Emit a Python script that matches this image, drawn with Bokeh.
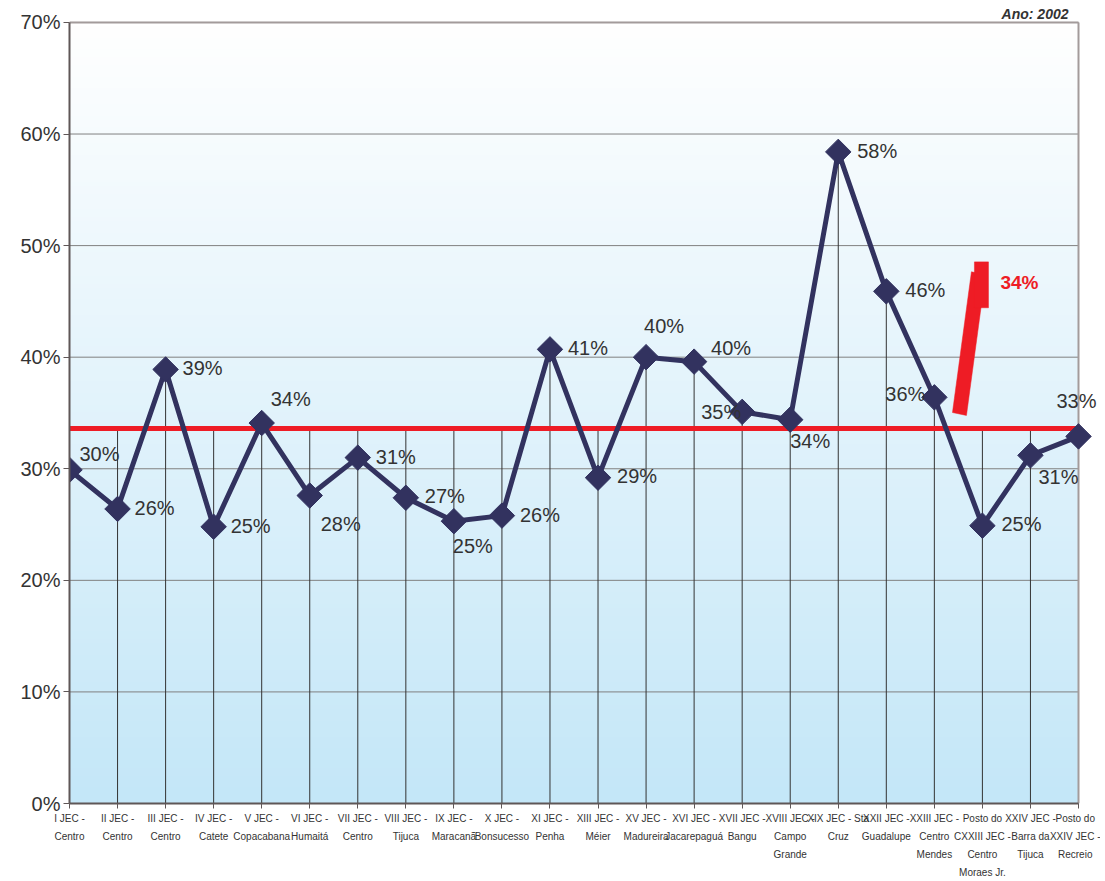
import numpy as np
from bokeh.plotting import figure
from bokeh.models import (Range1d, FixedTicker, PrintfTickFormatter, ColumnDataSource, Label)
from bokeh.embed import file_html
from bokeh.resources import INLINE

# ---------------- data ----------------
categories = [
    "I JEC -\nCentro", "II JEC -\nCentro", "III JEC -\nCentro", "IV JEC -\nCatete",
    "V JEC -\nCopacabana", "VI JEC -\nHumaitá", "VII JEC -\nCentro", "VIII JEC -\nTijuca",
    "IX JEC -\nMaracanã", "X JEC -\nBonsucesso", "XI JEC -\nPenha", "XIII JEC -\nMéier",
    "XV JEC -\nMadureira", "XVI JEC -\nJacarepaguá", "XVII JEC -\nBangu",
    "XVIII JEC -\nCampo\nGrande", "XIX JEC - Sta\nCruz", "XXII JEC -\nGuadalupe",
    "XXIII JEC -\nCentro\nMendes", "Posto do\nCXXIII JEC -\nCentro\nMoraes Jr.",
    "XXIV JEC -\nBarra da\nTijuca", "Posto do\nXXIV JEC -\nRecreio",
]
values = [29.9, 26.4, 38.9, 24.8, 34.1, 27.6, 31.0, 27.4, 25.3, 25.8, 40.7, 29.2,
          40.0, 39.6, 35.1, 34.4, 58.4, 45.9, 36.4, 24.9, 31.2, 32.9]
average = 33.6
average_label = "34%"
title_text = "Ano: 2002"
y_ticks = [0, 10, 20, 30, 40, 50, 60, 70]
y_max = 70

# label offsets (pixels, +x right, +y up) -- layout only
label_dx = [30, 37, 37, 37, 29, 31, 38, 39, 19, 38, 38, 39, 18, 37, -21, 20, 39, 39, -29, 39, 28, -2]
label_dy = [16, 1, 1, 1, 24, -28, 1, 2, -25, 1, 1, 2, 31, 14, 0, -21, 1, 1, 3, 2, -22, 35]

# red arrow annotation shape (data units)
arrow_bar_x = [18.377, 18.668, 19.063, 18.772]
arrow_bar_y = [35.04, 34.78, 47.38, 47.65]
arrow_head_x = [18.834, 19.126, 19.126, 18.834]
arrow_head_y = [48.54, 48.54, 44.43, 44.43]

NAVY = "#32325F"
RED = "#EE1C25"
TXT = "#333333"
BORDER = "#A39B9B"
AXIS = "#5F5757"
FONT = "Liberation Sans"

n = len(values)
xs = list(range(n))
x_last = n - 1

# frame is extended right/top beyond the plot box so outside labels are not clipped
FRAME_LEFT, FRAME_TOP, FRAME_BOTTOM = 69, 0, 805
BOX_RIGHT, BOX_TOP = 1078, 22
W, H = 1100, 880
x_end = x_last * (W - FRAME_LEFT) / (BOX_RIGHT - FRAME_LEFT)
y_end = y_max * (FRAME_BOTTOM - FRAME_TOP) / (FRAME_BOTTOM - BOX_TOP)

p = figure(width=W, height=H, x_range=Range1d(0, x_end), y_range=Range1d(0, y_end),
           output_backend="svg", toolbar_location=None,
           min_border_left=FRAME_LEFT, min_border_right=0, min_border_top=FRAME_TOP,
           min_border_bottom=H - FRAME_BOTTOM)
p.background_fill_color = "white"
p.border_fill_color = "white"
p.outline_line_color = None

# gradient background
N = 200
t = np.linspace(0, 1, N)[:, None]  # 0 bottom -> 1 top
bottom = np.array([196, 231, 248])
top = np.array([255, 255, 255])
rgb = (bottom + (top - bottom) * t).astype(np.uint32)
img = np.zeros((N, 1), dtype=np.uint32)
view = img.view(dtype=np.uint8).reshape((N, 1, 4))
view[:, :, 0] = rgb[:, 0:1]
view[:, :, 1] = rgb[:, 1:2]
view[:, :, 2] = rgb[:, 2:3]
view[:, :, 3] = 255
p.image_rgba(image=[img], x=0, y=0, dw=x_last, dh=y_max, level="image")

# grid (horizontal lines limited to the plot box)
p.xgrid.grid_line_color = None
p.ygrid.grid_line_color = None
p.segment(x0=[0] * len(y_ticks), y0=y_ticks, x1=[x_last] * len(y_ticks), y1=y_ticks,
          line_color="#808080", line_width=1)

# drop lines (to the highest series at each category)
tops = [max(v, average) for v in values]
p.segment(x0=xs, y0=[0] * n, x1=xs, y1=tops, line_color="#333333", line_width=1)

# plot box border (top and right)
p.segment(x0=[0, x_last], y0=[y_max, 0], x1=[x_last, x_last], y1=[y_max, y_max],
          line_color=BORDER, line_width=2)

# average line
p.line(x=[0, x_last], y=[average, average], line_color=RED, line_width=5)

# red arrow annotation
p.patch(arrow_bar_x, arrow_bar_y, fill_color=RED, line_color=RED, line_width=0.5)
p.patch(arrow_head_x, arrow_head_y, fill_color=RED, line_color=RED, line_width=0.5)

# series
src = ColumnDataSource(dict(x=xs, y=values))
p.line("x", "y", source=src, line_color=NAVY, line_width=5)
p.scatter("x", "y", source=src, marker="square", size=18, angle=np.pi / 4,
          fill_color=NAVY, line_color=NAVY)

for i, v in enumerate(values):
    p.add_layout(Label(x=xs[i], y=v, x_offset=label_dx[i], y_offset=label_dy[i],
                       text=f"{round(v)}%", text_align="center", text_baseline="middle",
                       text_font=FONT, text_font_size="20px", text_color=TXT))

p.add_layout(Label(x=19.0, y=46.67, x_offset=18, text=average_label,
                   text_font=FONT, text_font_size="19px", text_font_style="bold",
                   text_color=RED, text_align="left", text_baseline="middle"))

p.add_layout(Label(x=x_last, y=y_max, x_offset=-10, y_offset=8, text=title_text,
                   text_font=FONT, text_font_size="14px", text_font_style="bold italic",
                   text_color=TXT, text_align="right", text_baseline="alphabetic"))

# axes
p.yaxis.bounds = (0, y_max)
p.yaxis.ticker = FixedTicker(ticks=y_ticks)
p.yaxis.formatter = PrintfTickFormatter(format="%d%%")
p.yaxis.major_label_text_font = FONT
p.yaxis.major_label_text_font_size = "20px"
p.yaxis.major_label_text_color = TXT
p.yaxis.major_tick_out = 6
p.yaxis.major_tick_in = 0
p.yaxis.minor_tick_line_color = None
p.yaxis.axis_line_color = AXIS
p.yaxis.axis_line_width = 2
p.yaxis.major_tick_line_color = AXIS
p.yaxis.major_label_standoff = 3

p.xaxis.bounds = (0, x_last)
p.xaxis.ticker = FixedTicker(ticks=xs)
p.xaxis.major_label_overrides = {i: c for i, c in enumerate(categories)}
p.xaxis.major_label_text_font = FONT
p.xaxis.major_label_text_font_size = "10px"
p.xaxis.major_label_text_color = TXT
p.xaxis.major_label_text_line_height = 1.65
p.xaxis.major_label_standoff = 4
p.xaxis.major_tick_out = 5
p.xaxis.major_tick_in = 0
p.xaxis.minor_tick_line_color = None
p.xaxis.axis_line_color = AXIS
p.xaxis.axis_line_width = 2
p.xaxis.major_tick_line_color = AXIS

open("out.html", "w").write(file_html(p, INLINE))
